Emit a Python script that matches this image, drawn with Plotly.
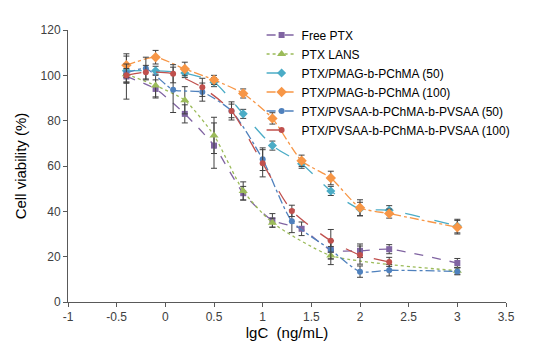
import plotly.graph_objects as go

# x positions (lgC)
x_a = [-0.4, -0.1, 0.2, 0.5, 0.8, 1.1, 1.4, 1.7, 2.0, 2.3, 3.0]
x_b = [-0.4, -0.2, 0.08, 0.38, 0.68, 1.0, 1.3, 1.7, 2.0, 2.3, 3.0]
x_lans = [-0.4, -0.1, 0.2, 0.5, 0.8, 1.1, 1.7, 3.0]

free_ptx = [99.5, 94.0, 83.0, 69.0, 48.0, 36.0, 32.3, 23.0, 22.6, 23.3, 17.2]
free_ptx_err = [10, 4, 4, 10, 3, 3, 3, 4, 3, 2, 2]

ptx_lans = [100.5, 95.5, 89.0, 73.5, 49.0, 35.0, 20.5, 13.8]
ptx_lans_err = [4, 5, 6, 8, 4, 2, 4, 1.5]

pmag50 = [102.0, 102.0, 101.0, 97.0, 83.0, 69.0, 61.0, 49.0, 41.0, 40.5, 33.5]
pmag50_err = [3, 2, 2, 2, 2, 2, 2, 2, 3, 2, 3]

pmag100 = [104.5, 108.0, 102.8, 98.0, 92.0, 81.0, 62.3, 54.7, 41.6, 39.0, 33.0]
pmag100_err = [4, 3, 3, 2, 2, 2.5, 2.5, 3, 3.5, 2, 3]

pvsaa50 = [101.0, 103.0, 93.6, 92.6, 84.3, 63.0, 35.6, 23.0, 13.4, 14.0, 13.5]
pvsaa50_err = [4, 5, 10, 4, 3, 5, 5, 4, 2.5, 2.5, 1.5]

pvsaa100 = [100.0, 101.4, 100.7, 94.7, 84.3, 61.2, 40.2, 27.0, 20.7, 17.7]
pvsaa100_err = [3, 3, 4, 4, 4, 6, 2.5, 5, 4, 2]

x_tickvals = [-1, -0.5, 0, 0.5, 1, 1.5, 2, 2.5, 3, 3.5]
x_ticktext = ["-1", "-0.5", "0", "0.5", "1", "1.5", "2", "2.5", "3", "3.5"]
y_tickvals = [0, 20, 40, 60, 80, 100, 120]

series = [
    ("Free PTX", x_a, free_ptx, free_ptx_err, "#8064A2", "square", 6, "dash"),
    ("PTX LANS", x_lans, ptx_lans, ptx_lans_err, "#9BBB59", "triangle-up", 8, "dot"),
    ("PTX/PMAG-b-PChMA (50)", x_a, pmag50, pmag50_err, "#4BACC6", "diamond", 7, "longdash"),
    ("PTX/PMAG-b-PChMA (100)", x_a, pmag100, pmag100_err, "#F79646", "diamond", 8, "dashdot"),
    ("PTX/PVSAA-b-PChMA-b-PVSAA (50)", x_b, pvsaa50, pvsaa50_err, "#4F81BD", "circle", 6, "dashdot"),
    ("PTX/PVSAA-b-PChMA-b-PVSAA (100)", x_b, pvsaa100, pvsaa100_err, "#C0504D", "circle", 6, "longdash"),
]

fig = go.Figure()
for name, xs, ys, errs, color, sym, size, dash in series:
    fig.add_trace(go.Scatter(
        x=xs, y=ys, name=name, mode="lines+markers",
        line=dict(color=color, width=1.3, dash=dash, shape="spline", smoothing=0.6),
        marker=dict(color=color, symbol=sym, size=size),
        error_y=dict(type="data", array=errs, visible=True,
                     color="#404040", thickness=1, width=3),
    ))

fig.update_layout(
    width=550, height=348,
    margin=dict(l=58, r=52, t=13, b=54),
    paper_bgcolor="white", plot_bgcolor="white",
    font=dict(family="Arial, Liberation Sans, sans-serif", size=12, color="#404040"),
    showlegend=True,
    legend=dict(x=0.442, y=1.035, xanchor="left", yanchor="top",
                bgcolor="rgba(0,0,0,0)", font=dict(size=12, color="#000000"),
                tracegroupgap=0, itemwidth=30),
    xaxis=dict(range=[-1, 3.5], tickvals=x_tickvals, ticktext=x_ticktext,
               showgrid=False, zeroline=False, showline=True,
               linecolor="#595959", linewidth=1, ticks="outside", ticklen=4,
               tickcolor="#595959", tickfont=dict(size=12, color="#404040"),
               title=dict(text="lgC  (ng/mL)", font=dict(size=15, color="#000000"), standoff=2)),
    yaxis=dict(range=[0, 120], tickvals=y_tickvals,
               showgrid=False, zeroline=False, showline=True,
               linecolor="#595959", linewidth=1, ticks="outside", ticklen=4,
               tickcolor="#595959", tickfont=dict(size=12, color="#404040"),
               title=dict(text="Cell viability (%)", font=dict(size=15, color="#000000"), standoff=10)),
)

fig.write_html("out.html")
